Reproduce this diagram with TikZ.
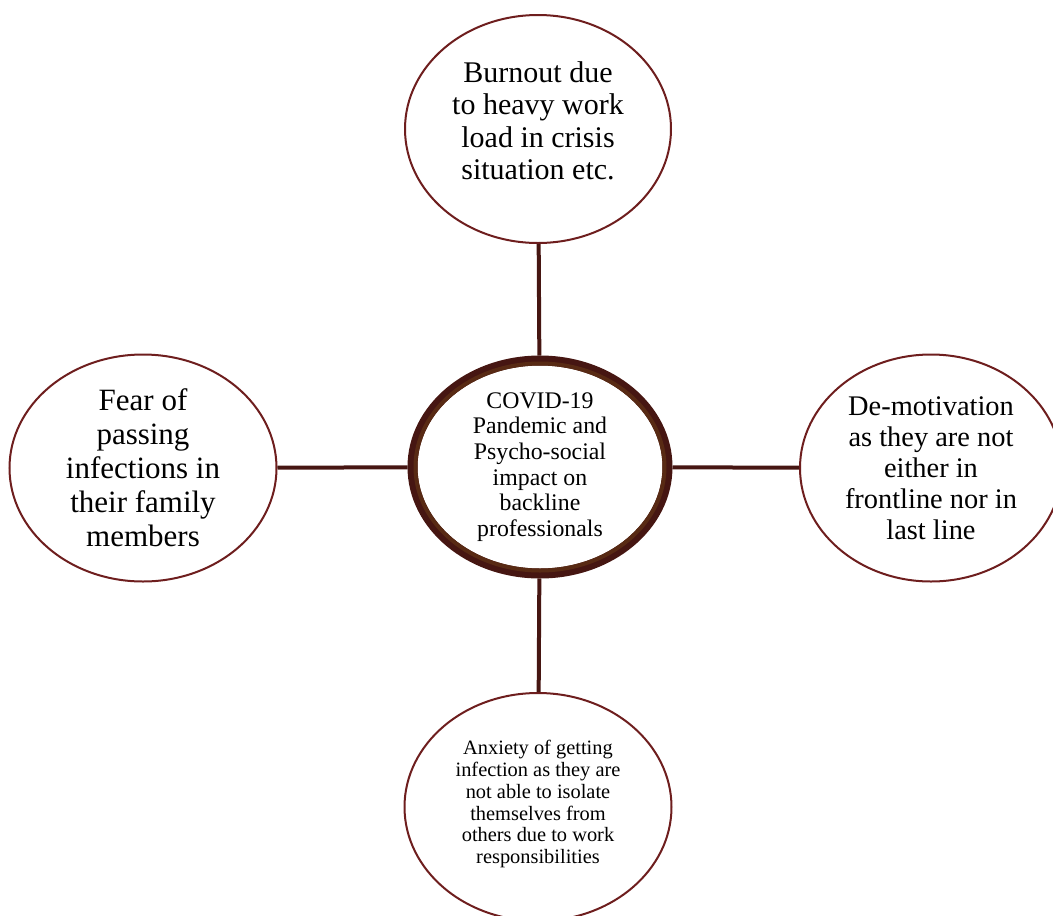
\documentclass[tikz,border=0pt]{standalone}
\usepackage{fontspec}
\setmainfont{Liberation Serif}
\usetikzlibrary{shapes.geometric,positioning}
\definecolor{maroon1}{RGB}{110,30,30}
\definecolor{brown1}{RGB}{70,22,18}
\definecolor{brown2}{RGB}{88,42,20}
\colorlet{penColor}{maroon1}
\colorlet{lineColor}{brown1}
\colorlet{ringColor}{brown2}
\tikzset{
  bubble/.style={ellipse,draw=penColor,line width=2pt,fill=white,inner sep=0pt,
    align=center,minimum width=266pt,minimum height=228pt},
  hub/.style={ellipse,draw=lineColor,line width=10pt,fill=white,inner sep=0pt,
    align=center,minimum width=255pt,minimum height=213pt},
  link/.style={lineColor,line width=4pt}
}

\begin{document}
\begin{tikzpicture}[x=1pt,y=-1pt]
      \useasboundingbox (0,0) rectangle (1053,916);
      \node [hub,font=\fontsize{23.8}{25.7}\selectfont] (covid) at (540,467) {COVID-19\\Pandemic and\\Psycho-social\\impact on\\backline\\professionals};
      \draw [ringColor,line width=4pt] (covid.center) ellipse (124.5 and 103.5);
      \node [bubble,font=\fontsize{30}{32.5}\selectfont] (burnout) at (538,129) {Burnout due\\to heavy work\\load in crisis\\situation etc.\\[-16pt]};
      \node [bubble,minimum width=267pt,minimum height=227pt,font=\fontsize{31}{34}\selectfont] (fear) at (143,468) {Fear of\\passing\\infections in\\their family\\members};
      \node [bubble,minimum width=262pt,minimum height=227pt,font=\fontsize{28.4}{31}\selectfont] (demotiv) at (931,468) {De-motivation\\as they are not\\either in\\frontline nor in\\last line};
      \node [bubble,minimum width=267pt,font=\fontsize{20.4}{21.8}\selectfont] (anxiety) at (538,807) {Anxiety of getting\\infection as they are\\not able to isolate\\themselves from\\others due to work\\responsibilities\\[-11.8pt]};
      \draw [link] (burnout) -- (covid);
      \draw [link] (fear) -- (covid);
      \draw [link] (covid) -- (demotiv);
      \draw [link] (covid) -- (anxiety);
    \end{tikzpicture}
\end{document}
